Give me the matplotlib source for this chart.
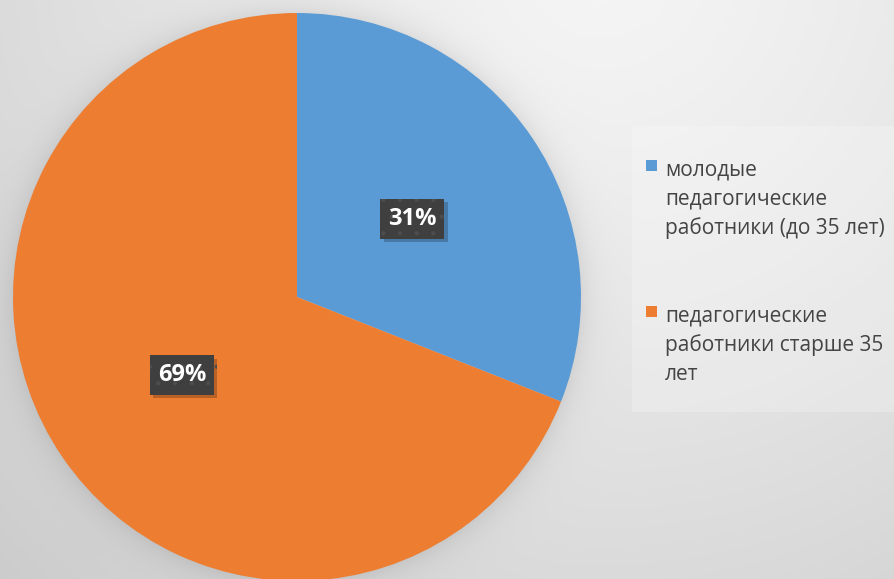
import numpy as np
import matplotlib.pyplot as plt
import matplotlib.patheffects as pe
from matplotlib.patches import Rectangle

# данные
labels = ['молодые\nпедагогические\nработники (до 35 лет)',
          'педагогические\nработники старше 35\nлет']
shares = [31, 69]
colors = ['#5B9BD5', '#ED7D31']

plt.rcParams['font.family'] = ['Open Sans', 'DejaVu Sans']
plt.rcParams['hatch.linewidth'] = 0.6

W, H = 894, 579
fig = plt.figure(figsize=(W / 100, H / 100), dpi=100)
ax = fig.add_axes([0, 0, 1, 1])

cx, cy, R = 297, H - 297, 284

# фон: радиальный градиент + мягкая тень вокруг круга
yy, xx = np.mgrid[0:H, 0:W]
d = np.hypot(xx - 600, yy + 40) / 900
bg = 0.96 - 0.17 * np.clip(d, 0, 1.2) ** 1.3
r = np.hypot(xx - cx, yy - 297)
shadow = 0.07 * np.exp(-np.clip(r - R, 0, None) / 14)
bg = bg - shadow
img = np.dstack([bg, bg, bg])
ax.imshow(img, extent=(0, W, 0, H), origin='upper', aspect='auto', zorder=0)

# круговая диаграмма
wedges, _, autotexts = ax.pie(shares, colors=colors, startangle=90, counterclock=False,
                              center=(cx, cy), radius=R, autopct='%.0f%%', pctdistance=0.49,
                              wedgeprops=dict(linewidth=0), frame=True)
ax.set_xlim(0, W)
ax.set_ylim(0, H)
ax.set_aspect('auto')
ax.axis('off')
for w in wedges:
    w.set_zorder(2)

for t in autotexts:
    t.set_color('white')
    t.set_fontsize(17)
    t.set_fontweight('bold')
    t.set_zorder(5)
    t.set_bbox(dict(boxstyle='square,pad=0.33', fc='#3f3f3f', ec='#4d4d4d',
                    lw=0, hatch='.'))
    t.get_bbox_patch().set_path_effects([
        pe.SimplePatchShadow(offset=(2.5, -2.5), shadow_rgbFace='k', alpha=0.22),
        pe.Normal()])

# легенда
ax.add_patch(Rectangle((632, H - 412), W - 632 + 5, 412 - 126, fc='white', alpha=0.22,
                       ec='none', zorder=3))
first_baseline = [175, 321]
for i, lab in enumerate(labels):
    b = first_baseline[i]
    ax.add_patch(Rectangle((646, H - 171 - (b - 175)), 11, 11, fc=colors[i], ec='none', zorder=4))
    for j, line in enumerate(lab.split('\n')):
        ax.text(665, H - (b + j * 29.5), line, fontsize=15, color='#444444',
                va='baseline', ha='left', zorder=4)

fig.savefig('out.png', dpi=100)
